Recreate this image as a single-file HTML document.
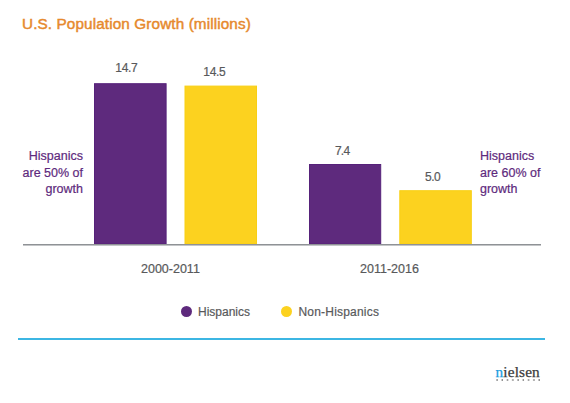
<!DOCTYPE html>
<html><head><meta charset="utf-8">
<style>
html,body{margin:0;padding:0;background:#fff;}
body{width:570px;height:403px;position:relative;overflow:hidden;font-family:"Liberation Sans",sans-serif;}
.a{position:absolute;white-space:nowrap;line-height:1;}
.bar{position:absolute;}
.p{background:#5e2a7d;}
.y{background:#fcd21f;}
.t{position:absolute;white-space:nowrap;line-height:1;}
.g{-webkit-text-stroke:0.2px #58595b;}
</style></head><body>
<div class="t" id="title" style="left:22px;top:16px;font-size:15.3px;color:#e6892c;letter-spacing:0.11px;-webkit-text-stroke:0.45px #e6892c;">U.S. Population Growth (millions)</div>

<svg style="position:absolute;left:0;top:0" width="570" height="403">
<rect x="94.5" y="83.7" width="71.6" height="160.3" fill="#5e2a7d" stroke="#56227a" stroke-width="1"/>
<rect x="185" y="86.1" width="71.5" height="157.9" fill="#fcd21f" stroke="#f8cf14" stroke-width="1"/>
<rect x="309.5" y="164.5" width="71.2" height="79.5" fill="#5e2a7d" stroke="#56227a" stroke-width="1"/>
<rect x="399.8" y="190.7" width="71.5" height="53.3" fill="#fcd21f" stroke="#f8cf14" stroke-width="1"/>
</svg>

<div style="position:absolute;left:23px;top:244px;width:518px;height:2px;background:linear-gradient(#8f9296 0,#8f9296 1px,#c3c5c7 1px,#c3c5c7 2px);"></div>

<div class="t g" style="left:115.3px;top:62.3px;font-size:12px;color:#58595b;letter-spacing:-0.3px;">14.7</div>
<div class="t g" style="left:203.3px;top:65.5px;font-size:12px;color:#58595b;letter-spacing:-0.3px;">14.5</div>
<div class="t g" style="left:335px;top:144.5px;font-size:12px;color:#58595b;letter-spacing:-0.8px;">7.4</div>
<div class="t g" style="left:425px;top:171.2px;font-size:12px;color:#58595b;letter-spacing:-0.5px;">5.0</div>

<div class="t g" style="left:141px;top:263px;font-size:12.5px;color:#58595b;">2000-2011</div>
<div class="t g" style="left:360px;top:263px;font-size:12.5px;color:#58595b;">2011-2016</div>

<div class="t" style="right:487px;top:148px;font-size:12.5px;color:#5e2a7d;-webkit-text-stroke:0.2px #5e2a7d;text-align:right;line-height:16.5px;">Hispanics<br>are 50% of<br>growth</div>
<div class="t" style="left:480px;top:148px;font-size:12.5px;color:#5e2a7d;-webkit-text-stroke:0.2px #5e2a7d;line-height:16.5px;">Hispanics<br>are 60% of<br>growth</div>

<div style="position:absolute;left:181px;top:306px;width:11px;height:11px;border-radius:50%;background:#5e2a7d;"></div>
<div class="t g" style="left:198px;top:305.7px;font-size:12px;color:#58595b;">Hispanics</div>
<div style="position:absolute;left:281px;top:306px;width:11px;height:11px;border-radius:50%;background:#fcd21f;"></div>
<div class="t g" style="left:298.5px;top:305.7px;font-size:12px;color:#58595b;letter-spacing:0.2px;">Non-Hispanics</div>

<div style="position:absolute;left:18px;top:338px;width:527px;height:2px;background:#3cb6e3;"></div>

<div class="t" style="left:495.5px;top:364px;font-size:15.3px;letter-spacing:0.15px;font-family:'Liberation Serif',serif;color:#3a3b3d;-webkit-text-stroke:0.25px #3a3b3d;"><span style="color:#1b9ddf;-webkit-text-stroke:0.25px #1b9ddf">n</span>ielsen</div>
<div style="position:absolute;left:496px;top:379px;width:45px;height:2px;background:radial-gradient(circle at 1px 1px,#707070 0.5px,transparent 0.95px);background-size:5.27px 2px;"></div>
</body></html>
